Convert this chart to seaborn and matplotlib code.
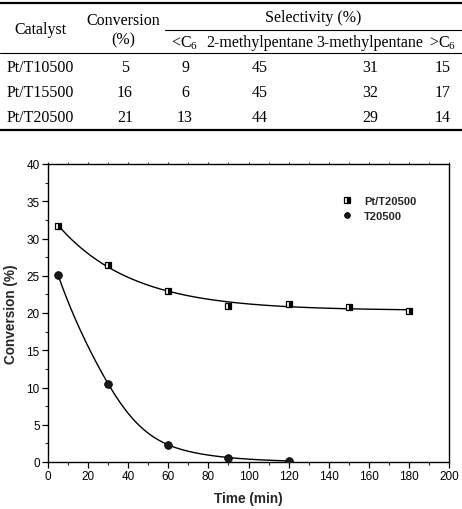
import numpy as np
import pandas as pd
import matplotlib
matplotlib.use("Agg")
import matplotlib.pyplot as plt
from matplotlib.lines import Line2D
from matplotlib.ticker import MultipleLocator
import seaborn as sns

# ---------------- data ----------------
catalysts = ["Pt/T10500", "Pt/T15500", "Pt/T20500"]
conversion = [5, 16, 21]
sel_lt_c6 = [9, 6, 13]
sel_2mp = [45, 45, 44]
sel_3mp = [31, 32, 29]
sel_gt_c6 = [15, 17, 14]

time_pt = [5, 30, 60, 90, 120, 150, 180]
conv_pt = [31.7, 26.4, 22.9, 20.9, 21.2, 20.8, 20.3]
time_t = [5, 30, 60, 90, 120]
conv_t = [25.1, 10.5, 2.3, 0.6, 0.15]

x_ticks = [0, 20, 40, 60, 80, 100, 120, 140, 160, 180, 200]
y_ticks = [0, 5, 10, 15, 20, 25, 30, 35, 40]

# ---------------- style ----------------
sns.set_theme(style="ticks")
plt.rcParams["font.family"] = ["Liberation Sans", "DejaVu Sans"]
plt.rcParams["mathtext.fontset"] = "custom"
plt.rcParams["mathtext.rm"] = "Liberation Serif"
plt.rcParams["mathtext.it"] = "Liberation Serif:italic"

W, H = 462, 510
fig = plt.figure(figsize=(W / 100, H / 100), dpi=100)


def fx(px):
    return px / W


def fy(py):
    return 1 - py / H


# ---------------- table ----------------
serif = ["Liberation Serif", "DejaVu Serif"]
tfs = 11.5


def ttext(x, y, s):
    fig.text(fx(x), fy(y), s, ha="center", va="center", family=serif,
             fontsize=tfs, color="black")


def hline(x0, x1, y, lw):
    fig.add_artist(Line2D([fx(x0), fx(x1)], [fy(y), fy(y)], color="black",
                          lw=lw, transform=fig.transFigure))


hline(0, W, 4, 1.6)
hline(165, W, 31, 0.8)
hline(0, W, 54, 0.8)
hline(0, W, 131, 1.6)

ttext(40, 30, "Catalyst")
ttext(123, 21, "Conversion")
ttext(123, 40, "(%)")
ttext(313, 18, "Selectivity (%)")
col_x = [185, 260, 370, 443]
ttext(col_x[0], 43, "<C$_6$")
ttext(col_x[1], 43, "2-methylpentane")
ttext(col_x[2], 43, "3-methylpentane")
ttext(col_x[3], 43, ">C$_6$")

row_y = [68, 93, 118]
for i, cat in enumerate(catalysts):
    y = row_y[i]
    ttext(40, y, cat)
    ttext(125, y, str(conversion[i]))
    ttext(col_x[0], y, str(sel_lt_c6[i]))
    ttext(col_x[1], y, str(sel_2mp[i]))
    ttext(col_x[2], y, str(sel_3mp[i]))
    ttext(col_x[3], y, str(sel_gt_c6[i]))

# ---------------- chart ----------------
ax = fig.add_axes([fx(48), 1 - 463 / H, (449 - 48) / W, (463 - 165) / H])


def exp_fit(t, y):
    t = np.asarray(t, float)
    y = np.asarray(y, float)
    best = None
    for tau in np.linspace(5, 120, 2000):
        M = np.column_stack([np.ones_like(t), np.exp(-t / tau)])
        coef, *_ = np.linalg.lstsq(M, y, rcond=None)
        r = np.sum((M @ coef - y) ** 2)
        if best is None or r < best[0]:
            best = (r, tau, coef)
    _, tau, coef = best
    tt = np.linspace(t.min(), t.max(), 300)
    return tt, coef[0] + coef[1] * np.exp(-tt / tau)


def log_spline(t, y):
    # natural cubic spline through log(y), returned in linear space
    x = np.asarray(t, float)
    v = np.log(np.asarray(y, float))
    n = len(x)
    h = np.diff(x)
    A = np.zeros((n, n))
    b = np.zeros(n)
    A[0, 0] = A[-1, -1] = 1
    for i in range(1, n - 1):
        A[i, i - 1] = h[i - 1]
        A[i, i] = 2 * (h[i - 1] + h[i])
        A[i, i + 1] = h[i]
        b[i] = 6 * ((v[i + 1] - v[i]) / h[i] - (v[i] - v[i - 1]) / h[i - 1])
    m = np.linalg.solve(A, b)
    tt = np.linspace(x.min(), x.max(), 300)
    out = np.empty_like(tt)
    for k, s in enumerate(tt):
        i = min(np.searchsorted(x, s, side="right") - 1, n - 2)
        a = (x[i + 1] - s) / h[i]
        c = (s - x[i]) / h[i]
        out[k] = (a * v[i] + c * v[i + 1]
                  + ((a ** 3 - a) * m[i] + (c ** 3 - c) * m[i + 1]) * h[i] ** 2 / 6)
    return tt, np.exp(out)


tt1, yy1 = exp_fit(time_pt, conv_pt)
tt2, yy2 = log_spline(time_t, conv_t)
fit = pd.concat([
    pd.DataFrame({"t": tt1, "y": yy1, "s": "Pt/T20500"}),
    pd.DataFrame({"t": tt2, "y": yy2, "s": "T20500"}),
])
sns.lineplot(data=fit, x="t", y="y", units="s", estimator=None, color="black",
             lw=1.0, ax=ax, legend=False)

ax.plot(time_pt, conv_pt, ls="none", marker="s", ms=5, mec="black", mew=0.9,
        mfc="black", fillstyle="right", markerfacecoloralt="white",
        label="Pt/T20500", zorder=3)
ax.plot(time_t, conv_t, ls="none", marker="o", ms=5.5, mec="black", mew=0.6,
        mfc="#1a1a1a", label="T20500", zorder=3)

ax.set_xlim(0, 200)
ax.set_ylim(0, 40)
ax.set_xticks(x_ticks)
ax.set_yticks(y_ticks)
ax.xaxis.set_minor_locator(MultipleLocator(10))
ax.yaxis.set_minor_locator(MultipleLocator(2.5))
ax.tick_params(axis="both", which="major", direction="out", length=4,
               width=0.9, labelsize=8.5, pad=2, colors="black")
ax.tick_params(axis="both", which="minor", direction="out", length=2.5,
               width=0.8)
ax.tick_params(axis="x", which="both", top=True)
ax.xaxis.set_tick_params(which="both", top=True)
for t in ax.xaxis.get_major_ticks() + ax.xaxis.get_minor_ticks():
    t.tick2line.set_markersize(1.5)
    t.tick2line.set_markeredgewidth(0.6)
for sp in ax.spines.values():
    sp.set_visible(True)
    sp.set_linewidth(1.0)
    sp.set_color("black")

ax.set_xlabel("Time (min)", fontsize=9.8, fontweight="bold", labelpad=6)
ax.set_ylabel("Conversion (%)", fontsize=9.8, fontweight="bold", labelpad=6)

leg = ax.legend(loc="upper left", bbox_to_anchor=(0.705, 0.925), frameon=False,
                prop={"weight": "bold", "size": 8}, handlelength=1.2,
                handletextpad=0.9, labelspacing=0.45, markerscale=0.75)

fig.savefig("out.png", dpi=100)
